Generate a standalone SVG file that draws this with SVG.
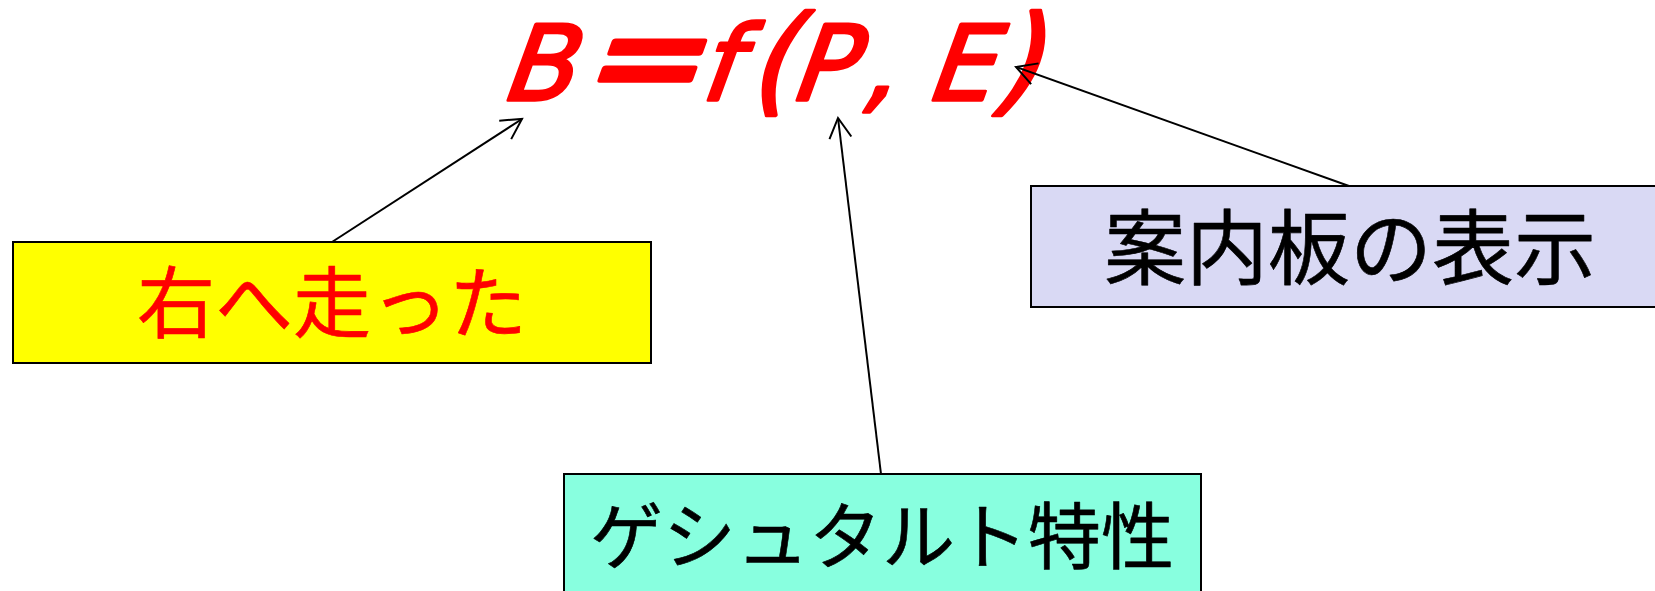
<svg xmlns="http://www.w3.org/2000/svg" width="1655" height="591" viewBox="0 0 1655 591">
  <defs>
    <style>
      .box { stroke: #000; stroke-width: 2; }
      .label { font-family: "Noto Sans CJK JP", "Noto Sans CJK SC", sans-serif; text-anchor: middle; stroke-width: 0.6; stroke-linejoin: round; }
      .formula { font-family: "DejaVu Sans", sans-serif; fill: #ff0000; stroke: #ff0000; stroke-width: 3.4; stroke-linejoin: round; }
      .conn { stroke: #000; stroke-width: 2; fill: none; marker-end: url(#open-arrow); }
    </style>
    <marker id="open-arrow" markerUnits="userSpaceOnUse" viewBox="-25 -15 30 30" refX="0" refY="0" markerWidth="30" markerHeight="30" orient="auto">
      <path d="M-20,-11 L0,0 L-20,11" fill="none" stroke="#000" stroke-width="2"/>
    </marker>
  </defs>
  <rect width="1655" height="591" fill="#fff"/>

  <!-- behaviour formula B = f(P, E), slanted about its baseline -->
  <g id="formula" transform="translate(0,100) skewX(-20)">
    <text class="formula" y="0" font-size="104">
      <tspan x="498">B</tspan>
      <tspan x="697">f</tspan>
      <tspan x="745" font-size="118">(</tspan>
      <tspan x="787">P</tspan>
      <tspan x="860">,</tspan>
      <tspan x="923">E</tspan>
      <tspan x="989" font-size="118">)</tspan>
    </text>
    <text class="formula" font-size="104" transform="scale(1.37,1.3)" x="422" y="2" style="stroke-width:4.6">=</text>
  </g>

  <!-- connectors -->
  <g id="connectors">
    <line class="conn" x1="332" y1="242" x2="522" y2="119"/>
    <line class="conn" x1="881" y1="474" x2="838" y2="118"/>
    <line class="conn" x1="1349" y1="186" x2="1016" y2="67"/>
  </g>

  <!-- behaviour -->
  <g id="node-behaviour">
    <rect class="box" x="13" y="242" width="638" height="121" fill="#ffff00"/>
    <text class="label" x="332" y="332" font-size="78" fill="#ff0000" stroke="#ff0000">右へ走った</text>
  </g>

  <!-- environment -->
  <g id="node-environment">
    <rect class="box" x="1031" y="186" width="638" height="121" fill="#d9d9f4"/>
    <text class="label" x="1350" y="278" font-size="82" fill="#000" stroke="#000">案内板の表示</text>
  </g>

  <!-- person -->
  <g id="node-person">
    <rect class="box" x="564" y="474" width="637" height="130" fill="#88ffdf"/>
    <text class="label" x="882" y="563" font-size="73" fill="#000" stroke="#000">ゲシュタルト特性</text>
  </g>
</svg>
